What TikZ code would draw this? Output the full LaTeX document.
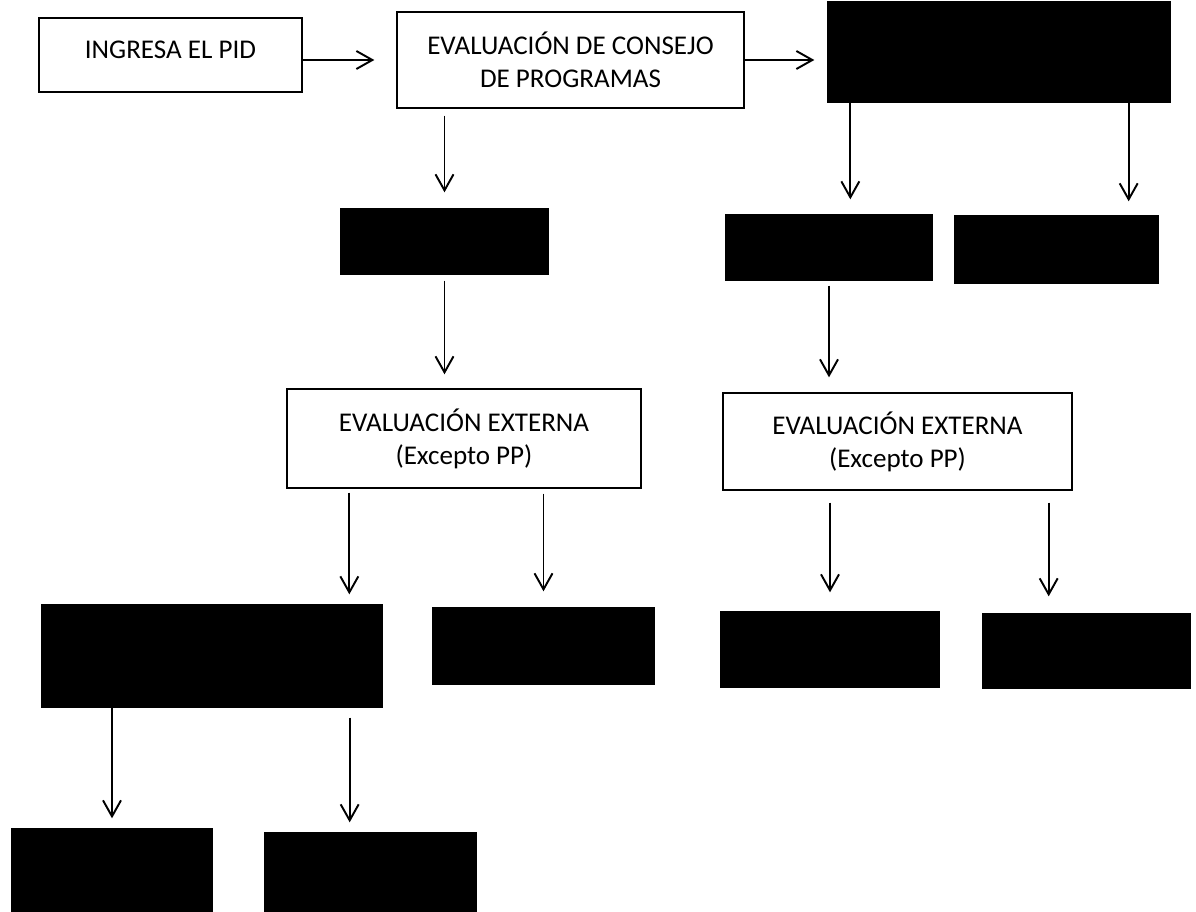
\documentclass[tikz,border=0pt]{standalone}
\usepackage{fontspec}
\setmainfont{Carlito}
\usepackage{tikz}
\usetikzlibrary{arrows.meta, calc, positioning}
\tikzset{
    ar/.style args={#1 #2}{
        -{Straight Barb[length=0.32cm, width=0.36cm]},
        line width=1.1pt,
        shorten <=#1, shorten >=#2
    },
    ar/.default={0pt 0.3cm}
}
\begin{document}
\begin{tikzpicture}[x=0.02cm, y=-0.02cm]
    \def \lw {0.8pt}
    \tikzstyle{every node}=[draw, line width=\lw, inner sep=0pt, font=\fontsize{15.4}{18.8}\selectfont];
    \tikzstyle{wbox}=[fill=white, align=center];
    \tikzstyle{kbox}=[fill=black];
    \useasboundingbox (0,0) rectangle (1196,912);
    % first row
    \node[wbox, text depth=0.2cm, minimum width=5.26cm, minimum height=1.48cm] (ing) at (170.5,55) {INGRESA EL PID};
    \node[wbox, text depth=-0.54cm, minimum width=6.94cm, minimum height=1.92cm] (cons) at (570.5,60) {EVALUACIÓN DE CONSEJO\\DE PROGRAMAS};
    \node[kbox, minimum width=6.84cm, minimum height=2.0cm] (k1) at (999,52) {};
    % second row
    \node[kbox, minimum width=4.14cm, minimum height=1.30cm] (k2) at (444.5,241.5) {};
    \node[kbox, minimum width=4.12cm, minimum height=1.30cm] (k3) at (829,247.5) {};
    \node[kbox, minimum width=4.06cm, minimum height=1.34cm] (k4) at (1056.5,249.5) {};
    % external evaluation
    \node[wbox, minimum width=7.08cm, minimum height=1.98cm] (ext1) at (464,438.5) {EVALUACIÓN EXTERNA\\(Excepto PP)};
    \node[wbox, minimum width=6.98cm, minimum height=1.94cm] (ext2) at (897.5,441.5) {EVALUACIÓN EXTERNA\\(Excepto PP)};
    % fourth row
    \node[kbox, minimum width=6.80cm, minimum height=2.04cm] (k5) at (212,656) {};
    \node[kbox, minimum width=4.42cm, minimum height=1.52cm] (k6) at (543.5,646) {};
    \node[kbox, minimum width=4.36cm, minimum height=1.50cm] (k7) at (830,649.5) {};
    \node[kbox, minimum width=4.14cm, minimum height=1.48cm] (k8) at (1086.5,651) {};
    % last row
    \node[kbox, minimum width=4.00cm, minimum height=1.66cm] (k9) at (112,870.5) {};
    \node[kbox, minimum width=4.22cm, minimum height=1.58cm] (k10) at (370.5,872.5) {};
    % arrows
    \draw[ar=0pt 0.44cm] (ing.east |- cons) -- (cons);
    \draw[ar=0pt 0.26cm] (cons.east) -- (cons -| k1.west);
    \draw[ar=0.14cm 0.32cm] (k2.north |- cons.south) -- (k2.north);
    \draw[ar=0.12cm 0.28cm] (k2.south) -- (k2.south |- ext1.north);
    \draw[ar=0pt 0.3cm] ($(k1.south west)+(23,0)$) -- ($(k1.south west |- k3.north)+(23,0)$);
    \draw[ar=0pt 0.28cm] ($(k1.south east)+(-42,0)$) -- ($(k1.south east |- k4.north)+(-42,0)$);
    \draw[ar=0.1cm 0.3cm] (k3.south) -- (k3.south |- ext2.north);
    \draw[ar=0.08cm 0.2cm] ($(ext1.south west)+(63,0)$) -- ($(ext1.south west |- k5.north)+(63,0)$);
    \draw[ar=0.1cm 0.32cm] (k6.north |- ext1.south) -- (k6.north);
    \draw[ar=0.24cm 0.38cm] (k7.north |- ext2.south) -- (k7.north);
    \draw[ar=0.24cm 0.34cm] ($(ext2.south east)+(-24,0)$) -- ($(ext2.south east |- k8.north)+(-24,0)$);
    \draw[ar=0pt 0.2cm] (k9.north |- k5.south) -- (k9.north);
    \draw[ar=0.2cm 0.2cm] ($(k5.south east)+(-33,0)$) -- ($(k5.south east |- k10.north)+(-33,0)$);
\end{tikzpicture}
\end{document}
